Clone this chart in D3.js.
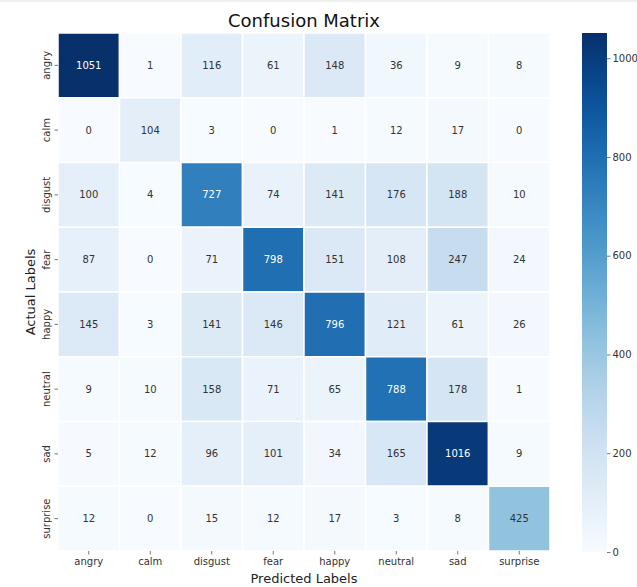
<!DOCTYPE html>
<html>
<head>
<meta charset="utf-8">
<script src="https://cdn.jsdelivr.net/npm/d3@7"></script>
<style>
  html, body { margin: 0; padding: 0; background: #fff; }
  svg { display: block; font-family: "DejaVu Sans", sans-serif; }
</style>
</head>
<body>
<svg id="chart" width="637" height="587"></svg>
<script>
// Class labels (rows = actual, columns = predicted)
const labels = ["angry", "calm", "disgust", "fear", "happy", "neutral", "sad", "surprise"];

// Counts per actual class
const angry    = [1051, 1, 116, 61, 148, 36, 9, 8];
const calm     = [0, 104, 3, 0, 1, 12, 17, 0];
const disgust  = [100, 4, 727, 74, 141, 176, 188, 10];
const fear     = [87, 0, 71, 798, 151, 108, 247, 24];
const happy    = [145, 3, 141, 146, 796, 121, 61, 26];
const neutral  = [9, 10, 158, 71, 65, 788, 178, 1];
const sad      = [5, 12, 96, 101, 34, 165, 1016, 9];
const surprise = [12, 0, 15, 12, 17, 3, 8, 425];

const colorbarTicks = [0, 200, 400, 600, 800, 1000];

const matrix = [angry, calm, disgust, fear, happy, neutral, sad, surprise];

const svg = d3.select("#chart");

const margin = { left: 58, top: 33, right: 550, bottom: 551 };

const x = d3.scaleBand().domain(labels).range([margin.left, margin.right]);
const y = d3.scaleBand().domain(labels).range([margin.top, margin.bottom]);

const maxVal = d3.max(matrix.flat());
const color = d3.scaleSequential(d3.interpolateBlues).domain([0, maxVal]);

// top frame line
svg.append("rect").attr("x", 0).attr("y", 0).attr("width", 637).attr("height", 2).attr("fill", "#f0f0f0");

// Title
svg.append("text")
  .attr("x", (margin.left + margin.right) / 2)
  .attr("y", 27)
  .attr("text-anchor", "middle")
  .attr("font-size", 18)
  .attr("fill", "#111")
  .text("Confusion Matrix");

// Cells
const cells = [];
matrix.forEach((row, i) => row.forEach((v, j) => cells.push({ r: labels[i], c: labels[j], v })));

function luminance(col) {
  const c = d3.rgb(col);
  const f = u => { u /= 255; return u <= 0.03928 ? u / 12.92 : Math.pow((u + 0.055) / 1.055, 2.4); };
  return 0.2126 * f(c.r) + 0.7152 * f(c.g) + 0.0722 * f(c.b);
}

const g = svg.append("g");
g.selectAll("rect.cell").data(cells).join("rect")
  .attr("class", "cell")
  .attr("x", d => x(d.c))
  .attr("y", d => y(d.r))
  .attr("width", x.bandwidth())
  .attr("height", y.bandwidth())
  .attr("fill", d => color(d.v))
  .attr("stroke", "#fff")
  .attr("stroke-width", 1.5);

g.selectAll("text.val").data(cells).join("text")
  .attr("class", "val")
  .attr("x", d => x(d.c) + x.bandwidth() / 2)
  .attr("y", d => y(d.r) + y.bandwidth() / 2)
  .attr("dy", "0.35em")
  .attr("text-anchor", "middle")
  .attr("font-size", 10)
  .attr("fill", d => luminance(color(d.v)) > 0.408 ? "#333" : "#fff")
  .text(d => d.v);

// Axes
const xAxis = svg.append("g")
  .attr("transform", `translate(0,${margin.bottom})`)
  .call(d3.axisBottom(x).tickSize(3.5).tickPadding(3));
xAxis.select(".domain").remove();
xAxis.selectAll("line").attr("stroke", "#555").attr("stroke-width", 0.8);
xAxis.selectAll("text").attr("font-size", 10).attr("fill", "#333").attr("font-family", "DejaVu Sans");

const yAxis = svg.append("g")
  .attr("transform", `translate(${margin.left},0)`)
  .call(d3.axisLeft(y).tickSize(3.5).tickPadding(3));
yAxis.select(".domain").remove();
yAxis.selectAll("line").attr("stroke", "#555").attr("stroke-width", 0.8);
yAxis.selectAll("text")
  .attr("font-size", 10).attr("fill", "#333").attr("font-family", "DejaVu Sans")
  .attr("text-anchor", "middle")
  .attr("dy", 0)
  .attr("x", 0)
  .attr("transform", "translate(-8,0) rotate(-90)");

// Axis titles
svg.append("text")
  .attr("x", (margin.left + margin.right) / 2)
  .attr("y", 583)
  .attr("text-anchor", "middle")
  .attr("font-size", 13)
  .attr("fill", "#222")
  .text("Predicted Labels");

svg.append("text")
  .attr("transform", `translate(35,${(margin.top + margin.bottom) / 2}) rotate(-90)`)
  .attr("text-anchor", "middle")
  .attr("font-size", 13)
  .attr("fill", "#222")
  .text("Actual Labels");

// Colorbar
const cbX = 582, cbW = 25, cbTop = 33, cbBottom = 552;
const cbScale = d3.scaleLinear().domain([0, maxVal]).range([cbBottom, cbTop]);

const defs = svg.append("defs");
const grad = defs.append("linearGradient")
  .attr("id", "cbgrad").attr("x1", 0).attr("y1", 1).attr("x2", 0).attr("y2", 0);
d3.range(0, 1.0001, 0.05).forEach(t => {
  grad.append("stop").attr("offset", t).attr("stop-color", color(t * maxVal));
});

svg.append("rect")
  .attr("x", cbX).attr("y", cbTop)
  .attr("width", cbW).attr("height", cbBottom - cbTop)
  .attr("fill", "url(#cbgrad)");

const cbAxis = svg.append("g")
  .attr("transform", `translate(${cbX + cbW},0)`)
  .call(d3.axisRight(cbScale).tickValues(colorbarTicks).tickFormat(d3.format("d")).tickSize(3.5).tickPadding(2));
cbAxis.select(".domain").remove();
cbAxis.selectAll("line").attr("stroke", "#555").attr("stroke-width", 0.8);
cbAxis.selectAll("text").attr("font-size", 10).attr("fill", "#333").attr("font-family", "DejaVu Sans");
</script>
</body>
</html>
